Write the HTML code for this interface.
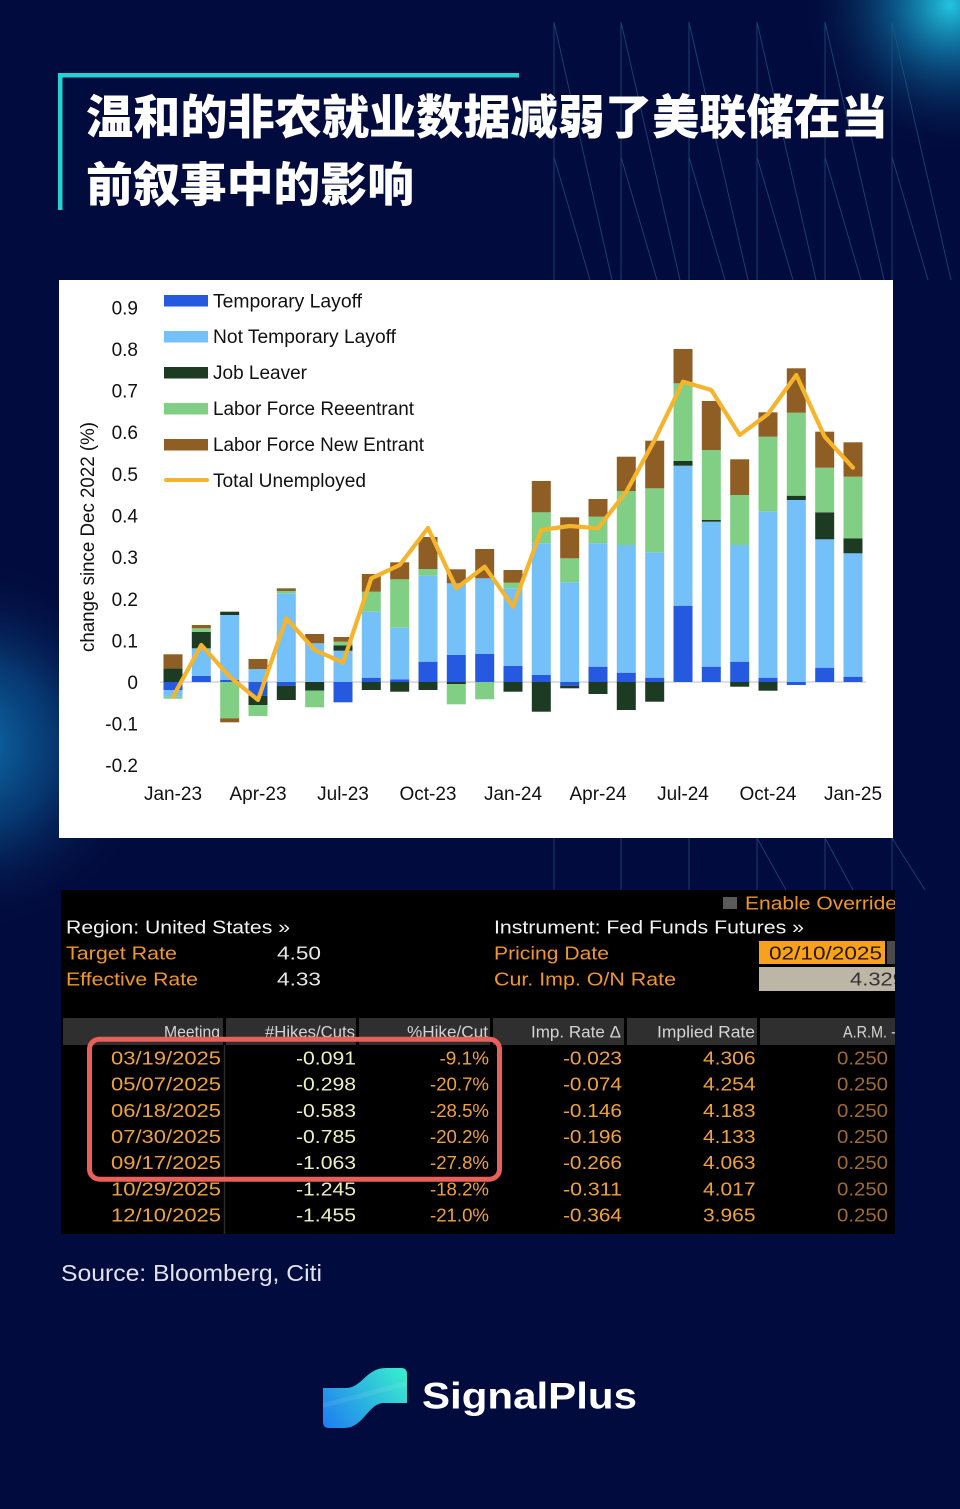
<!DOCTYPE html>
<html><head><meta charset="utf-8"><style>
html,body{margin:0;padding:0;background:#020B3D;}
svg{display:block;}
</style></head><body>
<svg width="960" height="1509" viewBox="0 0 960 1509" xmlns="http://www.w3.org/2000/svg">
<defs>
<radialGradient id="gTR" cx="950" cy="5" r="150" gradientUnits="userSpaceOnUse">
<stop offset="0" stop-color="#22C4E0"/><stop offset="0.35" stop-color="#0D6E9E" stop-opacity="0.8"/><stop offset="1" stop-color="#020B3D" stop-opacity="0"/></radialGradient>
<radialGradient id="gL" cx="-30" cy="745" r="190" gradientUnits="userSpaceOnUse">
<stop offset="0" stop-color="#0F72B0"/><stop offset="0.45" stop-color="#094A86" stop-opacity="0.7"/><stop offset="1" stop-color="#020B3D" stop-opacity="0"/></radialGradient>
<linearGradient id="gLogo" x1="323" y1="1428" x2="407" y2="1368" gradientUnits="userSpaceOnUse">
<stop offset="0" stop-color="#1E7CF2"/><stop offset="1" stop-color="#3AF0CC"/></linearGradient>
<clipPath id="tbl"><rect x="61" y="890" width="834" height="344"/></clipPath>
</defs>
<rect width="960" height="1509" fill="#020B3D"/>
<rect width="960" height="1509" fill="url(#gTR)"/>
<rect width="960" height="1509" fill="url(#gL)"/>
<!-- decorative lines -->
<g stroke="#1D5A82" stroke-width="0.9" opacity="0.75" fill="none">
<line x1="554" y1="22" x2="554" y2="890"/><line x1="621" y1="22" x2="621" y2="890"/><line x1="689" y1="22" x2="689" y2="890"/><line x1="757" y1="22" x2="757" y2="890"/><line x1="825" y1="22" x2="825" y2="890"/><line x1="892" y1="22" x2="892" y2="890"/>
<line x1="554" y1="22" x2="612" y2="280"/><line x1="621" y1="22" x2="680" y2="280"/><line x1="689" y1="22" x2="748" y2="280"/><line x1="757" y1="22" x2="816" y2="280"/><line x1="825" y1="22" x2="884" y2="280"/><line x1="892" y1="22" x2="951" y2="280"/>
<line x1="554" y1="157" x2="590" y2="280"/><line x1="621" y1="157" x2="657" y2="280"/><line x1="689" y1="157" x2="725" y2="280"/><line x1="757" y1="157" x2="793" y2="280"/><line x1="825" y1="157" x2="861" y2="280"/><line x1="892" y1="157" x2="928" y2="280"/>
<line x1="757" y1="838" x2="786" y2="890"/><line x1="825" y1="838" x2="853" y2="890"/><line x1="892" y1="838" x2="925" y2="890"/>
</g>
<!-- title -->
<rect x="58" y="73" width="461" height="4.5" fill="#22D3D6"/>
<rect x="58" y="73" width="4.5" height="137" fill="#22D3D6"/>
<g font-family="'Liberation Sans','Noto Sans CJK SC',sans-serif" font-weight="900" font-size="47" fill="#FFFFFF">
<text x="86" y="134" textLength="802" lengthAdjust="spacingAndGlyphs">温和的非农就业数据减弱了美联储在当</text>
<text x="86" y="201.5" textLength="328" lengthAdjust="spacingAndGlyphs">前叙事中的影响</text>
</g>
<!-- chart -->
<rect x="59" y="280" width="834" height="558" fill="#FFFFFF"/>
<line x1="160" y1="682" x2="866" y2="682" stroke="#D3D3DB" stroke-width="1.6"/>
<g font-family="'Liberation Sans',sans-serif" font-size="19" fill="#111">
<g text-anchor="end">
<text x="138" y="314.5">0.9</text><text x="138" y="356">0.8</text><text x="138" y="397.5">0.7</text><text x="138" y="439">0.6</text><text x="138" y="481">0.5</text><text x="138" y="522.5">0.4</text><text x="138" y="564">0.3</text><text x="138" y="606">0.2</text><text x="138" y="647.5">0.1</text><text x="138" y="689">0</text><text x="138" y="730.5">-0.1</text><text x="138" y="772">-0.2</text>
</g>
<g text-anchor="middle">
<text x="173" y="800">Jan-23</text><text x="258" y="800">Apr-23</text><text x="343" y="800">Jul-23</text><text x="428" y="800">Oct-23</text><text x="513" y="800">Jan-24</text><text x="598" y="800">Apr-24</text><text x="683" y="800">Jul-24</text><text x="768" y="800">Oct-24</text><text x="853" y="800">Jan-25</text>
</g>
<text transform="translate(94,652) rotate(-90)" x="0" y="0" textLength="230" lengthAdjust="spacingAndGlyphs">change since Dec 2022 (%)</text>
<text x="213" y="307.5" textLength="149" lengthAdjust="spacingAndGlyphs">Temporary Layoff</text>
<text x="213" y="343" textLength="183" lengthAdjust="spacingAndGlyphs">Not Temporary Layoff</text>
<text x="213" y="379" textLength="94" lengthAdjust="spacingAndGlyphs">Job Leaver</text>
<text x="213" y="415" textLength="201" lengthAdjust="spacingAndGlyphs">Labor Force Reeentrant</text>
<text x="213" y="451" textLength="211" lengthAdjust="spacingAndGlyphs">Labor Force New Entrant</text>
<text x="213" y="487" textLength="153" lengthAdjust="spacingAndGlyphs">Total Unemployed</text>
</g>
<rect x="164" y="295" width="44" height="11.5" fill="#2559E0"/>
<rect x="164" y="331" width="44" height="11.5" fill="#74C0F8"/>
<rect x="164" y="367" width="44" height="11.5" fill="#1C3B22"/>
<rect x="164" y="403" width="44" height="11.5" fill="#80CF85"/>
<rect x="164" y="439" width="44" height="11.5" fill="#8E5E24"/>
<line x1="166" y1="480" x2="207" y2="480" stroke="#F6B42D" stroke-width="4" stroke-linecap="round"/>
<!-- bars -->
<g>
<g transform="translate(163.5,0)"><rect y="668.3" width="19" height="13.7" fill="#1C3B22"/><rect y="654.3" width="19" height="14" fill="#8E5E24"/><rect y="682" width="19" height="8" fill="#2559E0"/><rect y="690" width="19" height="6.7" fill="#74C0F8"/><rect y="696.7" width="19" height="2" fill="#80CF85"/></g>
<g transform="translate(191.8,0)"><rect y="676" width="19" height="6" fill="#2559E0"/><rect y="648.3" width="19" height="27.7" fill="#74C0F8"/><rect y="632" width="19" height="16.3" fill="#1C3B22"/><rect y="628.3" width="19" height="3.7" fill="#80CF85"/><rect y="625" width="19" height="3.3" fill="#8E5E24"/></g>
<g transform="translate(220.2,0)"><rect y="680" width="19" height="2" fill="#2559E0"/><rect y="615" width="19" height="65" fill="#74C0F8"/><rect y="611.7" width="19" height="3.3" fill="#1C3B22"/><rect y="682" width="19" height="36.3" fill="#80CF85"/><rect y="718.3" width="19" height="4" fill="#8E5E24"/></g>
<g transform="translate(248.5,0)"><rect y="669" width="19" height="13" fill="#74C0F8"/><rect y="659" width="19" height="10" fill="#8E5E24"/><rect y="682" width="19" height="13.7" fill="#2559E0"/><rect y="695.7" width="19" height="9.3" fill="#1C3B22"/><rect y="705" width="19" height="11" fill="#80CF85"/></g>
<g transform="translate(276.8,0)"><rect y="593.3" width="19" height="88.7" fill="#74C0F8"/><rect y="591" width="19" height="2.3" fill="#80CF85"/><rect y="588.3" width="19" height="2.7" fill="#8E5E24"/><rect y="682" width="19" height="3.7" fill="#2559E0"/><rect y="685.7" width="19" height="14.3" fill="#1C3B22"/></g>
<g transform="translate(305.2,0)"><rect y="643.3" width="19" height="38.7" fill="#74C0F8"/><rect y="634" width="19" height="9.3" fill="#8E5E24"/><rect y="682" width="19" height="8.7" fill="#1C3B22"/><rect y="690.7" width="19" height="16.6" fill="#80CF85"/></g>
<g transform="translate(333.5,0)"><rect y="650.7" width="19" height="31.3" fill="#74C0F8"/><rect y="645.3" width="19" height="5.4" fill="#1C3B22"/><rect y="641.7" width="19" height="3.6" fill="#80CF85"/><rect y="637" width="19" height="4.7" fill="#8E5E24"/><rect y="682" width="19" height="20.3" fill="#2559E0"/></g>
<g transform="translate(361.8,0)"><rect y="677.7" width="19" height="4.3" fill="#2559E0"/><rect y="611.7" width="19" height="66" fill="#74C0F8"/><rect y="591.7" width="19" height="20" fill="#80CF85"/><rect y="574" width="19" height="17.7" fill="#8E5E24"/><rect y="682" width="19" height="8" fill="#1C3B22"/></g>
<g transform="translate(390.2,0)"><rect y="679.3" width="19" height="2.7" fill="#2559E0"/><rect y="627.7" width="19" height="51.6" fill="#74C0F8"/><rect y="579.3" width="19" height="48.4" fill="#80CF85"/><rect y="562.3" width="19" height="17" fill="#8E5E24"/><rect y="682" width="19" height="9.7" fill="#1C3B22"/></g>
<g transform="translate(418.5,0)"><rect y="661.7" width="19" height="20.3" fill="#2559E0"/><rect y="575.7" width="19" height="86" fill="#74C0F8"/><rect y="569" width="19" height="6.7" fill="#80CF85"/><rect y="537" width="19" height="32" fill="#8E5E24"/><rect y="682" width="19" height="8" fill="#1C3B22"/></g>
<g transform="translate(446.8,0)"><rect y="655" width="19" height="27" fill="#2559E0"/><rect y="583.3" width="19" height="71.7" fill="#74C0F8"/><rect y="569.3" width="19" height="14" fill="#8E5E24"/><rect y="682" width="19" height="2" fill="#1C3B22"/><rect y="684" width="19" height="20.3" fill="#80CF85"/></g>
<g transform="translate(475.2,0)"><rect y="654" width="19" height="28" fill="#2559E0"/><rect y="578.3" width="19" height="75.7" fill="#74C0F8"/><rect y="549" width="19" height="29.3" fill="#8E5E24"/><rect y="682" width="19" height="17.3" fill="#80CF85"/></g>
<g transform="translate(503.5,0)"><rect y="666" width="19" height="16" fill="#2559E0"/><rect y="588.3" width="19" height="77.7" fill="#74C0F8"/><rect y="582.7" width="19" height="5.6" fill="#80CF85"/><rect y="570" width="19" height="12.7" fill="#8E5E24"/><rect y="682" width="19" height="9.7" fill="#1C3B22"/></g>
<g transform="translate(531.8,0)"><rect y="675" width="19" height="7" fill="#2559E0"/><rect y="543.3" width="19" height="131.7" fill="#74C0F8"/><rect y="512.3" width="19" height="31" fill="#80CF85"/><rect y="481" width="19" height="31.3" fill="#8E5E24"/><rect y="682" width="19" height="29.7" fill="#1C3B22"/></g>
<g transform="translate(560.2,0)"><rect y="582.3" width="19" height="99.7" fill="#74C0F8"/><rect y="558.3" width="19" height="24" fill="#80CF85"/><rect y="517.3" width="19" height="41" fill="#8E5E24"/><rect y="682" width="19" height="3.7" fill="#2559E0"/><rect y="685.7" width="19" height="2.6" fill="#1C3B22"/></g>
<g transform="translate(588.5,0)"><rect y="666.7" width="19" height="15.3" fill="#2559E0"/><rect y="543.3" width="19" height="123.4" fill="#74C0F8"/><rect y="516.7" width="19" height="26.6" fill="#80CF85"/><rect y="499" width="19" height="17.7" fill="#8E5E24"/><rect y="682" width="19" height="12" fill="#1C3B22"/></g>
<g transform="translate(616.8,0)"><rect y="672.7" width="19" height="9.3" fill="#2559E0"/><rect y="545" width="19" height="127.7" fill="#74C0F8"/><rect y="491" width="19" height="54" fill="#80CF85"/><rect y="456.7" width="19" height="34.3" fill="#8E5E24"/><rect y="682" width="19" height="28" fill="#1C3B22"/></g>
<g transform="translate(645.2,0)"><rect y="677.7" width="19" height="4.3" fill="#2559E0"/><rect y="552.3" width="19" height="125.4" fill="#74C0F8"/><rect y="488.3" width="19" height="64" fill="#80CF85"/><rect y="440.7" width="19" height="47.6" fill="#8E5E24"/><rect y="682" width="19" height="19.7" fill="#1C3B22"/></g>
<g transform="translate(673.5,0)"><rect y="605.7" width="19" height="76.3" fill="#2559E0"/><rect y="465.7" width="19" height="140" fill="#74C0F8"/><rect y="461" width="19" height="4.7" fill="#1C3B22"/><rect y="383.3" width="19" height="77.7" fill="#80CF85"/><rect y="349" width="19" height="34.3" fill="#8E5E24"/></g>
<g transform="translate(701.8,0)"><rect y="666.7" width="19" height="15.3" fill="#2559E0"/><rect y="521.7" width="19" height="145" fill="#74C0F8"/><rect y="520" width="19" height="1.7" fill="#1C3B22"/><rect y="450" width="19" height="70" fill="#80CF85"/><rect y="401" width="19" height="49" fill="#8E5E24"/></g>
<g transform="translate(730.2,0)"><rect y="661.7" width="19" height="20.3" fill="#2559E0"/><rect y="545" width="19" height="116.7" fill="#74C0F8"/><rect y="495" width="19" height="50" fill="#80CF85"/><rect y="459.3" width="19" height="35.7" fill="#8E5E24"/><rect y="682" width="19" height="4.7" fill="#1C3B22"/></g>
<g transform="translate(758.5,0)"><rect y="677.7" width="19" height="4.3" fill="#2559E0"/><rect y="511.7" width="19" height="166" fill="#74C0F8"/><rect y="436.7" width="19" height="75" fill="#80CF85"/><rect y="412.3" width="19" height="24.4" fill="#8E5E24"/><rect y="682" width="19" height="8.7" fill="#1C3B22"/></g>
<g transform="translate(786.8,0)"><rect y="500" width="19" height="182" fill="#74C0F8"/><rect y="495.7" width="19" height="4.3" fill="#1C3B22"/><rect y="412.7" width="19" height="83" fill="#80CF85"/><rect y="368.3" width="19" height="44.4" fill="#8E5E24"/><rect y="682" width="19" height="3" fill="#2559E0"/></g>
<g transform="translate(815.2,0)"><rect y="667.7" width="19" height="14.3" fill="#2559E0"/><rect y="539.3" width="19" height="128.4" fill="#74C0F8"/><rect y="512.3" width="19" height="27" fill="#1C3B22"/><rect y="467.7" width="19" height="44.6" fill="#80CF85"/><rect y="431.7" width="19" height="36" fill="#8E5E24"/></g>
<g transform="translate(843.5,0)"><rect y="676.7" width="19" height="5.3" fill="#2559E0"/><rect y="553.3" width="19" height="123.4" fill="#74C0F8"/><rect y="538.3" width="19" height="15" fill="#1C3B22"/><rect y="476.7" width="19" height="61.6" fill="#80CF85"/><rect y="442.3" width="19" height="34.4" fill="#8E5E24"/></g>
</g>
<polyline fill="none" stroke="#F6B42D" stroke-width="4.2" stroke-linejoin="round" stroke-linecap="round" points="173,696.7 201.3,645 229.7,676.7 258,700 286.3,618.3 314.7,650 343,662.7 371.3,578.3 399.7,565 428,528 456.3,588.3 484.7,566.7 513,606.7 541.3,530 569.7,526 598,528.3 626.3,491.7 654.7,440 683,381.7 711.3,390 739.7,435 768,414 796.3,375 824.7,436.7 853,467.7"/>
<!-- table -->
<rect x="61" y="890" width="834" height="344" fill="#000000"/>
<g clip-path="url(#tbl)">
<rect x="723" y="897" width="14" height="12" fill="#5A5A5A"/>
<rect x="759" y="941" width="126" height="23" fill="#F7A21E"/>
<rect x="887" y="941" width="10" height="23" fill="#4A4A4A"/>
<rect x="759" y="967" width="138" height="24" fill="#BDB5A5"/>
<rect x="63" y="1018" width="160" height="27" fill="#2F2F2F"/>
<rect x="226" y="1018" width="130" height="27" fill="#2F2F2F"/>
<rect x="359" y="1018" width="131" height="27" fill="#2F2F2F"/>
<rect x="493" y="1018" width="131" height="27" fill="#2F2F2F"/>
<rect x="627" y="1018" width="130" height="27" fill="#2F2F2F"/>
<rect x="760" y="1018" width="137" height="27" fill="#2F2F2F"/>
<line x1="224.5" y1="1045" x2="224.5" y2="1234" stroke="#2A2A2A" stroke-width="1.5"/>
<g font-family="'Liberation Sans',sans-serif" font-size="18.5">
<text x="745" y="909.5" fill="#F0962A" textLength="152" lengthAdjust="spacingAndGlyphs">Enable Override</text>
<text x="66" y="933.5" fill="#F2F2F2" textLength="224" lengthAdjust="spacingAndGlyphs">Region: United States »</text>
<text x="494" y="933.5" fill="#F2F2F2" textLength="310" lengthAdjust="spacingAndGlyphs">Instrument: Fed Funds Futures »</text>
<text x="66" y="959.5" fill="#F0962A" textLength="111" lengthAdjust="spacingAndGlyphs">Target Rate</text>
<text x="277" y="959.5" fill="#E6E6E6" textLength="44" lengthAdjust="spacingAndGlyphs">4.50</text>
<text x="494" y="959.5" fill="#F0962A" textLength="115" lengthAdjust="spacingAndGlyphs">Pricing Date</text>
<text x="769" y="959.5" fill="#2A1800" textLength="113" lengthAdjust="spacingAndGlyphs">02/10/2025</text>
<text x="66" y="985.5" fill="#F0962A" textLength="132" lengthAdjust="spacingAndGlyphs">Effective Rate</text>
<text x="277" y="985.5" fill="#E6E6E6" textLength="44" lengthAdjust="spacingAndGlyphs">4.33</text>
<text x="494" y="985.5" fill="#F0962A" textLength="182" lengthAdjust="spacingAndGlyphs">Cur. Imp. O/N Rate</text>
<text x="850" y="985.5" fill="#333333" textLength="55" lengthAdjust="spacingAndGlyphs">4.329</text>
</g>
<g font-family="'Liberation Sans',sans-serif" font-size="16.5" fill="#D4D4D4">
<text x="164" y="1037.5" textLength="56" lengthAdjust="spacingAndGlyphs">Meeting</text>
<text x="265" y="1037.5" textLength="90" lengthAdjust="spacingAndGlyphs">#Hikes/Cuts</text>
<text x="407" y="1037.5" textLength="81" lengthAdjust="spacingAndGlyphs">%Hike/Cut</text>
<text x="531" y="1037.5" textLength="90" lengthAdjust="spacingAndGlyphs">Imp. Rate Δ</text>
<text x="657" y="1037.5" textLength="98" lengthAdjust="spacingAndGlyphs">Implied Rate</text>
<text x="843" y="1037.5" textLength="44" lengthAdjust="spacingAndGlyphs">A.R.M.</text>
<text x="891" y="1037.5">-</text>
</g>
<g font-family="'Liberation Sans',sans-serif" font-size="18.5">
<g fill="#F0A23A">
<text x="111" y="1064.5" textLength="110" lengthAdjust="spacingAndGlyphs">03/19/2025</text>
<text x="111" y="1090.5" textLength="110" lengthAdjust="spacingAndGlyphs">05/07/2025</text>
<text x="111" y="1117" textLength="110" lengthAdjust="spacingAndGlyphs">06/18/2025</text>
<text x="111" y="1143" textLength="110" lengthAdjust="spacingAndGlyphs">07/30/2025</text>
<text x="111" y="1169" textLength="110" lengthAdjust="spacingAndGlyphs">09/17/2025</text>
<text x="111" y="1195.5" textLength="110" lengthAdjust="spacingAndGlyphs">10/29/2025</text>
<text x="111" y="1221.5" textLength="110" lengthAdjust="spacingAndGlyphs">12/10/2025</text>
<text x="439.5" y="1064.5" textLength="49.5" lengthAdjust="spacingAndGlyphs">-9.1%</text>
<text x="430" y="1090.5" textLength="59" lengthAdjust="spacingAndGlyphs">-20.7%</text>
<text x="430" y="1117" textLength="59" lengthAdjust="spacingAndGlyphs">-28.5%</text>
<text x="430" y="1143" textLength="59" lengthAdjust="spacingAndGlyphs">-20.2%</text>
<text x="430" y="1169" textLength="59" lengthAdjust="spacingAndGlyphs">-27.8%</text>
<text x="430" y="1195.5" textLength="59" lengthAdjust="spacingAndGlyphs">-18.2%</text>
<text x="430" y="1221.5" textLength="59" lengthAdjust="spacingAndGlyphs">-21.0%</text>
<text x="563" y="1064.5" textLength="59" lengthAdjust="spacingAndGlyphs">-0.023</text>
<text x="563" y="1090.5" textLength="59" lengthAdjust="spacingAndGlyphs">-0.074</text>
<text x="563" y="1117" textLength="59" lengthAdjust="spacingAndGlyphs">-0.146</text>
<text x="563" y="1143" textLength="59" lengthAdjust="spacingAndGlyphs">-0.196</text>
<text x="563" y="1169" textLength="59" lengthAdjust="spacingAndGlyphs">-0.266</text>
<text x="563" y="1195.5" textLength="59" lengthAdjust="spacingAndGlyphs">-0.311</text>
<text x="563" y="1221.5" textLength="59" lengthAdjust="spacingAndGlyphs">-0.364</text>
<text x="703" y="1064.5" textLength="52.5" lengthAdjust="spacingAndGlyphs">4.306</text>
<text x="703" y="1090.5" textLength="52.5" lengthAdjust="spacingAndGlyphs">4.254</text>
<text x="703" y="1117" textLength="52.5" lengthAdjust="spacingAndGlyphs">4.183</text>
<text x="703" y="1143" textLength="52.5" lengthAdjust="spacingAndGlyphs">4.133</text>
<text x="703" y="1169" textLength="52.5" lengthAdjust="spacingAndGlyphs">4.063</text>
<text x="703" y="1195.5" textLength="52.5" lengthAdjust="spacingAndGlyphs">4.017</text>
<text x="703" y="1221.5" textLength="52.5" lengthAdjust="spacingAndGlyphs">3.965</text>
</g>
<g fill="#EEF0C2">
<text x="296" y="1064.5" textLength="60" lengthAdjust="spacingAndGlyphs">-0.091</text>
<text x="296" y="1090.5" textLength="60" lengthAdjust="spacingAndGlyphs">-0.298</text>
<text x="296" y="1117" textLength="60" lengthAdjust="spacingAndGlyphs">-0.583</text>
<text x="296" y="1143" textLength="60" lengthAdjust="spacingAndGlyphs">-0.785</text>
<text x="296" y="1169" textLength="60" lengthAdjust="spacingAndGlyphs">-1.063</text>
<text x="296" y="1195.5" textLength="60" lengthAdjust="spacingAndGlyphs">-1.245</text>
<text x="296" y="1221.5" textLength="60" lengthAdjust="spacingAndGlyphs">-1.455</text>
</g>
<g fill="#A06A30">
<text x="837" y="1064.5" textLength="51" lengthAdjust="spacingAndGlyphs">0.250</text>
<text x="837" y="1090.5" textLength="51" lengthAdjust="spacingAndGlyphs">0.250</text>
<text x="837" y="1117" textLength="51" lengthAdjust="spacingAndGlyphs">0.250</text>
<text x="837" y="1143" textLength="51" lengthAdjust="spacingAndGlyphs">0.250</text>
<text x="837" y="1169" textLength="51" lengthAdjust="spacingAndGlyphs">0.250</text>
<text x="837" y="1195.5" textLength="51" lengthAdjust="spacingAndGlyphs">0.250</text>
<text x="837" y="1221.5" textLength="51" lengthAdjust="spacingAndGlyphs">0.250</text>
</g>
</g>
</g>
<rect x="89.5" y="1039.2" width="410" height="140" rx="10" ry="10" fill="none" stroke="#E8605A" stroke-width="5"/>
<!-- source -->
<text x="61" y="1281" font-family="'Liberation Sans',sans-serif" font-size="23" fill="#E2E2EC" textLength="261" lengthAdjust="spacingAndGlyphs">Source: Bloomberg, Citi</text>
<!-- logo -->
<path d="M323,1388 L346,1388 C362,1388 366,1368 386,1368 L401,1368 Q407,1368 407,1374 L407,1403 L384,1403 C368,1403 364,1428 344,1428 L329,1428 Q323,1428 323,1422 Z" fill="url(#gLogo)"/>
<path d="M323,1403 L407,1381 L407,1386 L323,1408 Z" fill="#FFFFFF" opacity="0.08"/>
<text x="422" y="1408.5" font-family="'Liberation Sans',sans-serif" font-weight="700" font-size="37" fill="#FFFFFF" textLength="215" lengthAdjust="spacingAndGlyphs">SignalPlus</text>
</svg>
</body></html>
